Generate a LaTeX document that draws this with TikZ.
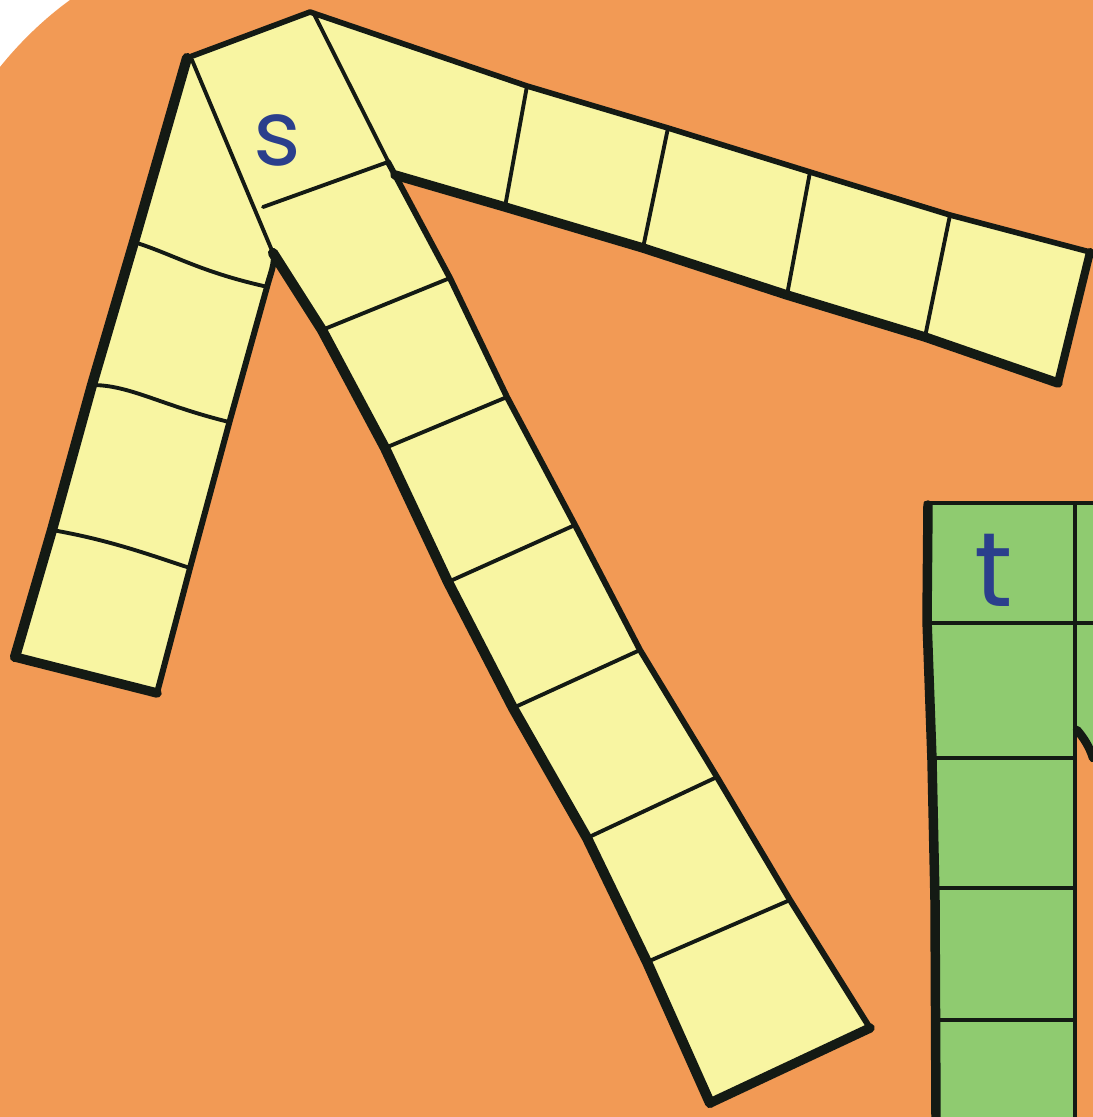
\documentclass[tikz,border=0pt]{standalone}
\usepackage{fontspec}
\newfontfamily\labelfont{Poppins}
\definecolor{bgorange}{HTML}{F29A55}
\definecolor{cellyellow}{HTML}{F8F5A2}
\definecolor{cellgreen}{HTML}{8FCB70}
\definecolor{inkblue}{HTML}{2B3F8C}
\definecolor{inkline}{HTML}{141A14}
\tikzset{
  outerline/.style={draw=inkline, line width=4.6pt, line join=round, line cap=round},
  innerline/.style={draw=inkline, line width=2.2pt, line cap=round},
  letter/.style={text=inkblue, font=\labelfont\fontsize{52}{52}\selectfont, inner sep=0pt}
}
\begin{document}
\begin{tikzpicture}[x=0.02cm,y=-0.02cm]
\useasboundingbox (0,0) rectangle (1093,1117);
% background
\fill[white] (0,0) rectangle (1093,1117);
\fill[bgorange] (70,0) -- (1093,0) -- (1093,1117) -- (0,1117) -- (0,67)
   .. controls (20,42) and (45,18) .. (70,0) -- cycle;

% ---------- green grid (bottom right) ----------
\fill[cellgreen] (929,503) -- (1093,503) -- (1093,758) -- (1076,732) -- (1076,1117) -- (933,1117) -- cycle;
\draw[innerline, line width=2.8pt] (926,503) -- (1093,503);
\draw[innerline] (1075,503) -- (1075,1117);
\draw[innerline, line width=2.6pt] (930,623) -- (1093,623);
\draw[innerline] (932,758) -- (1075,758);
\draw[innerline] (934,888) -- (1075,888);
\draw[innerline] (936,1020) -- (1075,1020);
\draw[outerline, line width=4.8pt] (1077,730) .. controls (1084,738) and (1090,748) .. (1093,758);
\draw[outerline, line width=5.4pt] (928,505) -- (927,620) -- (932,760) -- (935,900) -- (936,1117);
\node[letter, font=\labelfont\fontsize{60}{60}\selectfont] (t) at (994,570) {t};

% ---------- yellow strips ----------
\fill[cellyellow]
  (187,58) -- (310,12) -- (527,86) -- (668,128) -- (810,172) -- (950,215) -- (1090,252)
  -- (1058,383) -- (925,337) -- (787,295) -- (643,248) -- (505,207) -- (395,175)
  -- (450,278) -- (507,397) -- (575,525) -- (640,650) -- (717,777) -- (790,900) -- (870,1028)
  -- (710,1103) -- (647,962) -- (587,838) -- (513,708) -- (448,582) -- (385,448) -- (322,330) -- (273,253)
  -- (267,287) -- (230,420) -- (190,568) -- (157,693)
  -- (15,657) -- (52,530) -- (92,385) -- (134,242) -- cycle;

% inner dividers
\draw[innerline] (192,60) -- (273,253);
\draw[innerline] (314,14) -- (395,175);
\draw[innerline] (263,207) -- (388,162);
\draw[innerline] (322,330) -- (450,278);
\draw[innerline] (385,448) -- (507,397);
\draw[innerline] (448,582) -- (575,525);
\draw[innerline] (513,708) -- (640,650);
\draw[innerline] (587,838) -- (717,777);
\draw[innerline] (647,962) -- (790,900);
\draw[innerline] (527,86) -- (505,207);
\draw[innerline] (668,128) -- (643,248);
\draw[innerline] (810,172) -- (787,295);
\draw[innerline] (950,215) -- (925,337);
\draw[innerline] (134,242) .. controls (175,255) and (200,272) .. (268,287);
\draw[innerline] (92,385) .. controls (130,385) and (160,405) .. (229,422);
\draw[innerline] (52,530) .. controls (110,540) and (150,555) .. (190,568);

% outer outline
\draw[outerline, line width=3.2pt] (187,58) -- (310,12) -- (527,86) -- (668,128) -- (810,172) -- (950,215) -- (1090,252);
\draw[outerline] (1090,252) -- (1058,383);
\draw[outerline, line width=5.4pt] (1058,383) -- (925,337) -- (787,295) -- (643,248) -- (505,207) -- (395,175);
\draw[outerline, line width=3.4pt] (388,162) -- (395,175) -- (450,278) -- (507,397) -- (575,525) -- (640,650) -- (717,777) -- (790,900) -- (870,1028);
\draw[outerline, line width=5.4pt] (870,1028) -- (710,1103);
\draw[outerline, line width=5.8pt] (710,1103) -- (647,962) -- (587,838) -- (513,708) -- (448,582) -- (385,448) -- (322,330) -- (273,253);
\draw[outerline, line width=3.4pt] (273,253) .. controls (276,262) and (270,275) .. (267,287) -- (230,420) -- (190,568) -- (157,693);
\draw[outerline, line width=5.4pt] (157,693) -- (15,657);
\draw[outerline, line width=5.8pt] (15,657) -- (52,530) -- (92,385) -- (134,242) -- (187,58);

\node[letter] (s) at (277,140) {s};
\end{tikzpicture}
\end{document}
